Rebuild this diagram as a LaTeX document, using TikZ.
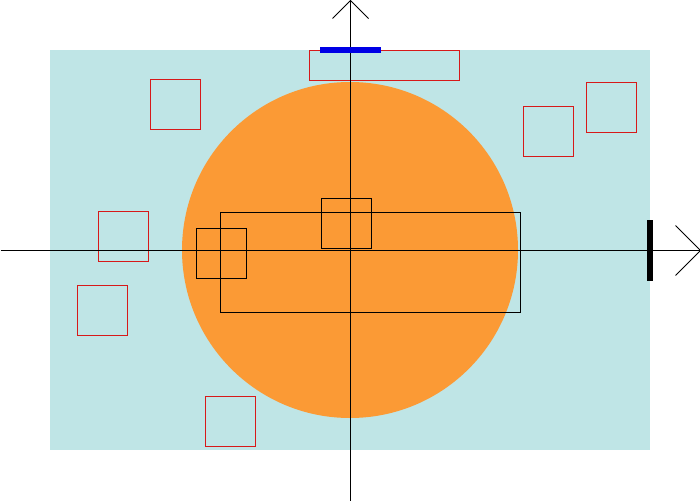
\documentclass[tikz,border=0pt]{standalone}
\definecolor{bgcyan}{RGB}{191,229,230}
\definecolor{disc}{RGB}{251,154,53}
\definecolor{boxred}{RGB}{215,25,25}
\definecolor{barblue}{RGB}{0,0,230}
\begin{document}
\begin{tikzpicture}[x=1pt,y=-1pt,
  redbox/.style={draw=boxred,line width=1.2pt},
  blackbox/.style={draw=black,line width=1pt},
  axisline/.style={draw=black,line width=1pt}]
\useasboundingbox (0,0) rectangle (700,500);
\fill[bgcyan] (50,50) rectangle (650,450);
\fill[disc] (350,250) circle (168);
\begin{scope}[shift={(0.5,0.5)}]
% red boxes
\draw[redbox] (150,79) rectangle (200,129);
\draw[redbox] (309,50) rectangle (459,80);
\draw[redbox] (523,106) rectangle (573,156);
\draw[redbox] (586,82) rectangle (636,132);
\draw[redbox] (98,211) rectangle (148,261);
\draw[redbox] (77,285) rectangle (127,335);
\draw[redbox] (205,396) rectangle (255,446);
% black boxes
\draw[blackbox] (220,212) rectangle (520,312);
\draw[blackbox] (321,198) rectangle (371,248);
\draw[blackbox] (196,228) rectangle (246,278);
% axes
\draw[axisline] (0,250) -- (700,250);
\draw[axisline] (675,225) -- (700,250) -- (675,275);
\draw[axisline] (350,500) -- (350,0);
\draw[axisline] (332,18) -- (350,0) -- (368,18);
\end{scope}
% bars
\draw[barblue,line width=5.5pt] (320,50) -- (381,50);
\draw[black,line width=6pt] (650,220) -- (650,280.5);
\end{tikzpicture}
\end{document}
